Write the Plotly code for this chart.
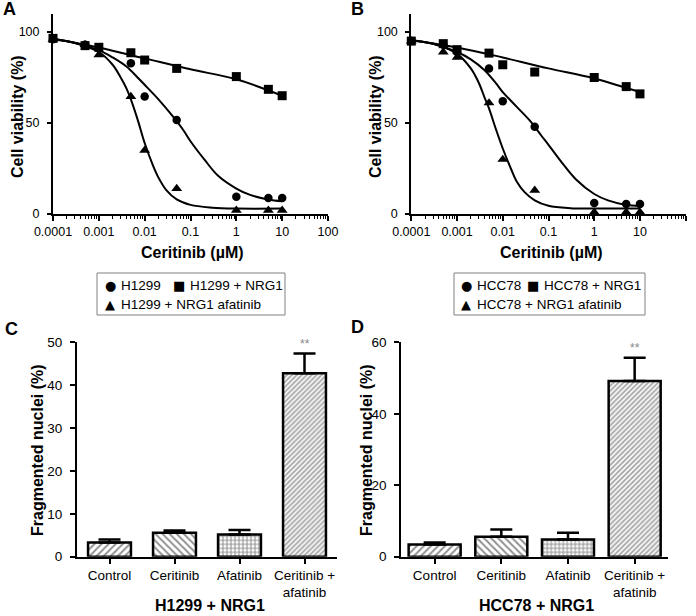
import plotly.graph_objects as go

W, H = 696, 616

# ---------------- data ----------------
doses = [0.0001, 0.0005, 0.001, 0.005, 0.01, 0.05, 1, 5, 10]

# Panel A (H1299)
a_ctrl = [96, 93, 91, 82.8, 64.5, 51.6, 9.5, 8.8, 8.8]
a_nrg1 = [96.5, 92.5, 91.6, 88.6, 84.6, 80, 75.5, 68.5, 65]
a_afat = [96, 93, 87.5, 64.5, 35, 14, 2, 2, 2]

# Panel B (HCC78)
b_ctrl = [95, 93, 89, 80, 62, 48, 6, 5.5, 5.5]
b_nrg1 = [95, 93.6, 90.3, 88.4, 82, 78, 75, 70, 66]
b_afat = [95, 89, 86, 61, 30, 13, 1, 1, 1]

# fitted curves
fit_x_sig = [0.0001, 0.0003, 0.001, 0.002, 0.004, 0.007, 0.01, 0.02, 0.04, 0.07,
             0.1, 0.2, 0.4, 1, 2, 5, 10]
a_ctrl_fit = [96, 94, 90, 86, 81, 75, 71, 63, 54, 46, 40, 30, 21, 14, 10.5, 8, 7]
b_ctrl_fit = [95.5, 93.5, 89, 85, 79, 72, 67, 59, 51, 43, 38, 28, 19, 11, 7.5, 5, 4.5]

fit_x_steep = [0.0001, 0.0003, 0.001, 0.002, 0.003, 0.004, 0.005, 0.007, 0.01, 0.015,
               0.02, 0.03, 0.05, 0.1, 0.3, 1, 10]
a_afat_fit = [96, 94, 89, 82, 75, 69, 63, 52, 39, 27, 20, 13, 8, 5, 3.5, 3, 3]
b_afat_fit = [95.5, 93.5, 88, 80, 72, 64, 58, 47, 36, 25, 18, 12, 7.5, 4.5, 3.2, 3, 3]

fit_x_lin = [0.0001, 0.001, 0.01, 0.1, 1, 10]
a_nrg1_fit = [96.5, 91.5, 85.5, 79.5, 74, 65]
b_nrg1_fit = [95.5, 91.5, 86, 80, 74.5, 67]

x_ticks = [0.0001, 0.001, 0.01, 0.1, 1, 10, 100]
x_ticktext = ["0.0001", "0.001", "0.01", "0.1", "1", "10", "100"]

# Panels C, D
bar_cats = ["Control", "Ceritinib", "Afatinib", "Ceritinib +<br>afatinib"]
c_vals = [3.3, 5.6, 5.2, 42.8]
c_err = [0.7, 0.5, 1.0, 4.6]
d_vals = [3.4, 5.6, 4.8, 49.2]
d_err = [0.6, 2.0, 1.9, 6.5]

legend_a = ["H1299", "H1299 + NRG1", "H1299 + NRG1 afatinib"]
legend_b = ["HCC78", "HCC78 + NRG1", "HCC78 + NRG1 afatinib"]

# ---------------- layout helpers ----------------
def xd(l, r):
    return [l / W, r / W]

def yd(top, bottom):
    return [1 - bottom / H, 1 - top / H]

def px(x):
    return x / W

def py(y):
    return 1 - y / H

FONT = "Liberation Sans, Arial, sans-serif"
fig = go.Figure()

symbols = ["circle", "square", "triangle-up"]
msizes = [8.5, 9, 9.5]

def add_curve_panel(xa, ya, ctrl, nrg1, afat, fits, names):
    for (fx, fy) in fits:
        fig.add_trace(go.Scatter(x=fx, y=fy, mode="lines", line=dict(color="black", width=2, shape="spline", smoothing=1.0),
                                 xaxis=xa, yaxis=ya, showlegend=False, hoverinfo="skip", cliponaxis=False))
    for vals, sym, ms, nm in zip([ctrl, nrg1, afat], symbols, msizes, names):
        fig.add_trace(go.Scatter(x=doses, y=vals, mode="markers", name=nm,
                                 marker=dict(symbol=sym, size=ms, color="black"),
                                 xaxis=xa, yaxis=ya, showlegend=False, cliponaxis=False))

add_curve_panel("x", "y", a_ctrl, a_nrg1, a_afat,
                [(fit_x_sig, a_ctrl_fit), (fit_x_steep, a_afat_fit), (fit_x_lin, a_nrg1_fit)], legend_a)
add_curve_panel("x2", "y2", b_ctrl, b_nrg1, b_afat,
                [(fit_x_sig, b_ctrl_fit), (fit_x_steep, b_afat_fit), (fit_x_lin, b_nrg1_fit)], legend_b)

patterns = dict(shape=["/", "\\", "+", "/"], size=[5, 5, 4, 3.5], solidity=[0.4, 0.4, 0.45, 0.55],
                fgcolor=["#222", "#222", "#222", "#555"], bgcolor="white", fillmode="overlay")

def add_bars(xa, ya, vals, err, width):
    fig.add_trace(go.Bar(x=bar_cats, y=vals, xaxis=xa, yaxis=ya, showlegend=False, width=width,
                         marker=dict(color="white", line=dict(color="black", width=2.5), pattern=patterns),
                         error_y=dict(type="data", array=err, arrayminus=[0] * len(err), symmetric=False,
                                      color="black", thickness=2.5, width=11)))

add_bars("x3", "y3", c_vals, c_err, 0.66)
add_bars("x4", "y4", d_vals, d_err, 0.78)

tickfont = dict(family=FONT, size=12.5, color="black")
common = dict(showline=True, linecolor="black", linewidth=2, showgrid=False, zeroline=False,
              automargin=False, tickcolor="black", tickwidth=1.5, ticks="outside")
logaxis = dict(type="log", range=[-4, 2], tickvals=x_ticks, ticktext=x_ticktext,
               ticklen=5, tickfont=tickfont,
               minor=dict(ticks="outside", ticklen=3, tickwidth=1.3, tickcolor="black", dtick="D1", showgrid=False),
               **common)
yaxis_ab = dict(range=[0, 110], tickvals=[0, 50, 100], ticklen=4, tickfont=tickfont, ticklabelstandoff=5, **common)
cataxis = dict(type="category", range=[-0.5, 3.5], ticklen=5,
               tickfont=dict(family=FONT, size=13.5, color="black"), **common)
ybar = dict(ticklen=5, tickfont=dict(family=FONT, size=13.5, color="black"), ticklabelstandoff=5, **common)

fig.update_layout(
    template="none",
    width=W, height=H, margin=dict(l=0, r=0, t=0, b=0, autoexpand=False),
    paper_bgcolor="white", plot_bgcolor="white",
    font=dict(family=FONT, color="black"),
    showlegend=False,
    xaxis=dict(domain=xd(53, 328), anchor="y", **logaxis),
    yaxis=dict(domain=yd(13.8, 214), anchor="x", **yaxis_ab),
    xaxis2=dict(domain=xd(411.3, 685.7), anchor="y2", **logaxis),
    yaxis2=dict(domain=yd(13.8, 214), anchor="x2", **yaxis_ab),
    xaxis3=dict(domain=xd(77, 337), anchor="y3", **cataxis),
    yaxis3=dict(domain=yd(342.3, 556.7), anchor="x3", range=[0, 50], tickvals=[0, 10, 20, 30, 40, 50], **ybar),
    xaxis4=dict(domain=xd(401.3, 668), anchor="y4", **cataxis),
    yaxis4=dict(domain=yd(342.3, 556.7), anchor="x4", range=[0, 60], tickvals=[0, 20, 40, 60], **ybar),
)

ann = []
def text(x, y, s, size=13, bold=False, angle=0, xanchor="center", color="black", family=FONT):
    ann.append(dict(x=px(x), y=py(y), xref="paper", yref="paper", text=f"<b>{s}</b>" if bold else s,
                    showarrow=False, textangle=angle, xanchor=xanchor, yanchor="middle",
                    font=dict(family=family, size=size, color=color)))

# panel letters
text(9, 9, "A", 18, True)
text(357, 9, "B", 18, True)
text(11, 329, "C", 18, True)
text(357, 327, "D", 18, True)

# axis titles
text(17, 117, "Cell viability (%)", 16, True, -90)
text(375, 117, "Cell viability (%)", 16, True, -90)
text(192, 252, "Ceritinib (µM)", 16, True)
text(551, 252, "Ceritinib (µM)", 16, True)
text(37, 450, "Fragmented nuclei (%)", 16, True, -90)
text(366, 450, "Fragmented nuclei (%)", 16, True, -90)
text(210, 605, "H1299 + NRG1", 16, True)
text(536, 605, "HCC78 + NRG1", 16, True)

# legends (A and B)
glyphs = ["●", "■", "▲"]
def legend_block(x0, x1, names, gx, tx):
    fig.add_shape(type="rect", xref="paper", yref="paper", x0=px(x0), x1=px(x1), y0=py(315), y1=py(273),
                  line=dict(color="#808080", width=1))
    rows = [285.5, 304.3]
    pos = [(gx[0], tx[0], rows[0]), (gx[1], tx[1], rows[0]), (gx[2], tx[2], rows[1])]
    for g, nm, (gxx, txx, yy) in zip(glyphs, names, pos):
        text(gxx, yy, g, 13, False, 0, "center", "black", "DejaVu Sans")
        text(txx, yy, nm, 13.5, False, 0, "left")

legend_block(97, 285, legend_a, [110, 179, 110], [119, 188, 119])
legend_block(454, 645, legend_b, [466, 532.5, 466], [475, 541.5, 475])

# significance marks
ann.append(dict(x=3, y=49.6, xref="x3", yref="y3", text="**", showarrow=False,
                font=dict(family=FONT, size=12, color="#888888"), yanchor="middle"))
ann.append(dict(x=3, y=58.3, xref="x4", yref="y4", text="**", showarrow=False,
                font=dict(family=FONT, size=12, color="#888888"), yanchor="middle"))

fig.update_layout(annotations=ann)
# remove the browser's default 8px page margin so the figure sits at the window origin
fig.write_html("out.html", config={"displayModeBar": False},
               post_script="document.body.style.margin='0';")
